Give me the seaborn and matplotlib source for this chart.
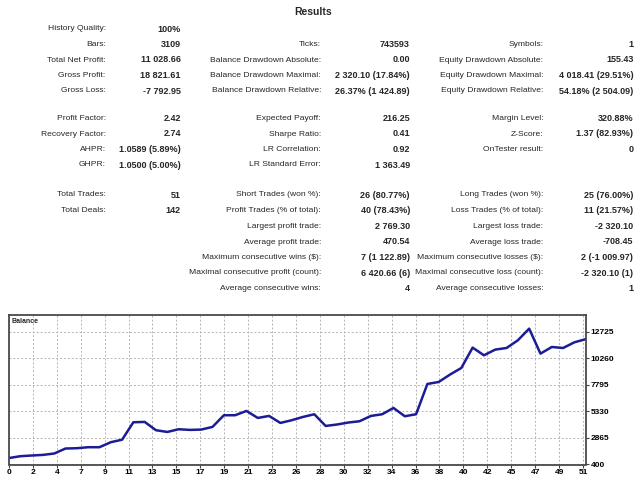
import matplotlib
matplotlib.use("Agg")
import matplotlib.pyplot as plt
import numpy as np
import pandas as pd
import seaborn as sns

# balance after each trade (0 = initial deposit)
trades = list(range(52))
balance = [1000, 1170, 1234, 1290, 1420, 1883, 1911, 2004, 2004, 2467,
           2700, 4320, 4350, 3580, 3420, 3670, 3610, 3640, 3890, 4970,
           4970, 5369, 4720, 4905, 4256, 4507, 4813, 5063, 3978, 4108,
           4293, 4414, 4905, 5063, 5647, 4877, 5063, 7872, 8057, 8743,
           9355, 11246, 10532, 11060, 11209, 11923, 13005, 10685, 11302, 11209,
           11737, 12028.66]
y_ticks = [400, 2865, 5330, 7795, 10260, 12725]
x_tick_labels = [0, 2, 4, 7, 9, 11, 13, 15, 17, 19, 21, 23, 26, 28, 30, 32,
                 34, 36, 38, 40, 42, 45, 47, 49, 51]

# report rows: (label, value) x 3 columns
section1 = [
    ("History Quality:", "100%", "", "", "", ""),
    ("Bars:", "3109", "Ticks:", "743593", "Symbols:", "1"),
    ("Total Net Profit:", "11 028.66", "Balance Drawdown Absolute:", "0.00",
     "Equity Drawdown Absolute:", "155.43"),
    ("Gross Profit:", "18 821.61", "Balance Drawdown Maximal:", "2 320.10 (17.84%)",
     "Equity Drawdown Maximal:", "4 018.41 (29.51%)"),
    ("Gross Loss:", "-7 792.95", "Balance Drawdown Relative:", "26.37% (1 424.89)",
     "Equity Drawdown Relative:", "54.18% (2 504.09)"),
]
section2 = [
    ("Profit Factor:", "2.42", "Expected Payoff:", "216.25", "Margin Level:", "320.88%"),
    ("Recovery Factor:", "2.74", "Sharpe Ratio:", "0.41", "Z-Score:", "1.37 (82.93%)"),
    ("AHPR:", "1.0589 (5.89%)", "LR Correlation:", "0.92", "OnTester result:", "0"),
    ("GHPR:", "1.0500 (5.00%)", "LR Standard Error:", "1 363.49", "", ""),
]
section3 = [
    ("Total Trades:", "51", "Short Trades (won %):", "26 (80.77%)",
     "Long Trades (won %):", "25 (76.00%)"),
    ("Total Deals:", "142", "Profit Trades (% of total):", "40 (78.43%)",
     "Loss Trades (% of total):", "11 (21.57%)"),
    ("", "", "Largest profit trade:", "2 769.30", "Largest loss trade:", "-2 320.10"),
    ("", "", "Average profit trade:", "470.54", "Average loss trade:", "-708.45"),
    ("", "", "Maximum consecutive wins ($):", "7 (1 122.89)",
     "Maximum consecutive losses ($):", "2 (-1 009.97)"),
    ("", "", "Maximal consecutive profit (count):", "6 420.66 (6)",
     "Maximal consecutive loss (count):", "-2 320.10 (1)"),
    ("", "", "Average consecutive wins:", "4", "Average consecutive losses:", "1"),
]

sns.set_theme(style="white")
plt.rcParams['font.family'] = ['Liberation Sans', 'DejaVu Sans']

W, H = 640, 480
fig = plt.figure(figsize=(6.4, 4.8), dpi=100)
fig.patch.set_facecolor("white")


def fx(x):
    return x / W


def fy(y):
    return 1 - y / H


fig.text(fx(313.5), fy(12), "Results", ha="center", va="center",
         fontsize=7.5, fontweight="bold")

label_right = [105.7, 321, 543.3]
value_right = [181, 410, 633.3]
rows_y = [
    (section1, [29, 44.5, 60, 75.5, 91]),
    (section2, [118.3, 134, 149.7, 165]),
    (section3, [195, 210.7, 226.3, 242, 257.5, 273, 288.5]),
]
for section, ys in rows_y:
    for row, y in zip(section, ys):
        for c in range(3):
            lab, val = row[2 * c], row[2 * c + 1]
            if lab:
                fig.text(fx(label_right[c]), fy(y), lab, ha="right", va="center",
                         fontsize=6.1)
            if val:
                fig.text(fx(value_right[c]), fy(y), val, ha="right", va="center",
                         fontsize=6.5, fontweight="bold")

# balance chart
left, right, top, bottom = 9, 585.7, 315, 464.5
ax = fig.add_axes([fx(left), 1 - bottom / H, (right - left) / W, (bottom - top) / H])
df = pd.DataFrame({"trade": trades, "balance": balance})
sns.lineplot(data=df, x="trade", y="balance", ax=ax, color="#1c1c96", linewidth=1.8)
ax.set_xlim(0, 51)
ax.set_ylim(400, 14270)
ax.yaxis.tick_right()
ax.set_yticks(y_ticks)
ax.set_xticks(np.arange(len(x_tick_labels)) * 2.115)
ax.set_xticklabels([str(v) for v in x_tick_labels])
ax.set_xlabel("")
ax.set_ylabel("")
ax.grid(True, color="#b4b4b4", linestyle=(0, (2, 2)), linewidth=0.7)
ax.tick_params(axis="both", bottom=True, right=True, left=False, length=2, width=0.8,
               pad=1.5, labelsize=6, color="#404040", labelcolor="black")
for lbl in ax.get_xticklabels() + ax.get_yticklabels():
    lbl.set_fontweight("bold")
for sp in ax.spines.values():
    sp.set_color("#4a4a4a")
    sp.set_linewidth(1.3)
ax.text(0.005, 0.955, "Balance", transform=ax.transAxes, ha="left", va="center",
        fontsize=5, fontweight="bold")

fig.savefig("out.png", dpi=100)
